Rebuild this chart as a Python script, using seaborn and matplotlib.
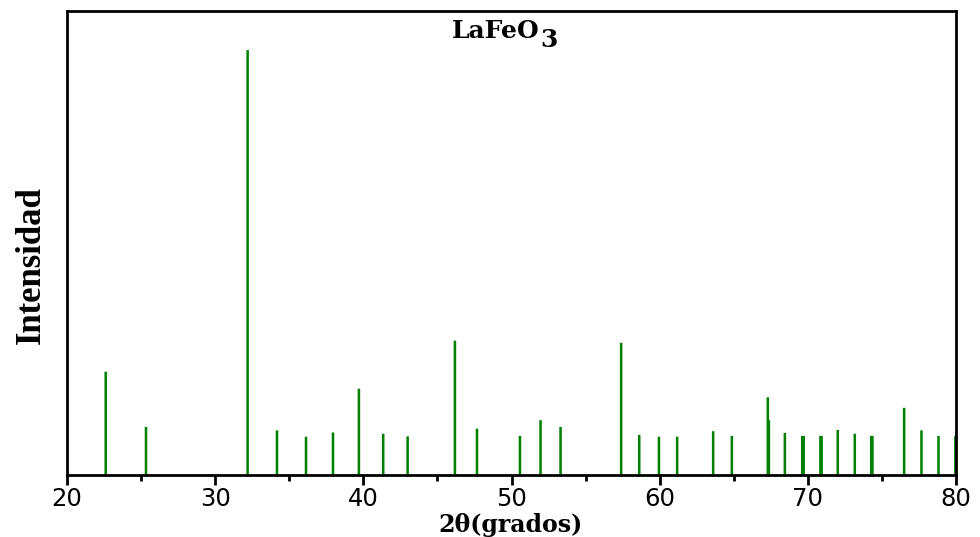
import matplotlib
matplotlib.use("Agg")
import matplotlib.pyplot as plt
from matplotlib.ticker import MultipleLocator
import seaborn as sns
import pandas as pd

# Reflection positions (2θ, degrees) and relative intensities for LaFeO3
two_theta = [22.61, 25.33, 32.19, 34.17, 36.13, 37.95, 39.70, 41.34, 42.99,
             46.18, 47.67, 50.57, 51.96, 53.31, 57.40, 58.62, 59.95, 61.18,
             63.61, 64.87, 67.30, 67.37, 68.45, 69.62, 69.72, 70.85, 70.93,
             72.02, 73.17, 74.28, 74.36, 76.50, 77.67, 78.82, 79.96]
intensity = [24.3, 11.3, 100.0, 10.5, 9.0, 10.0, 20.3, 9.7, 9.1,
             31.6, 10.9, 9.2, 12.9, 11.3, 31.1, 9.4, 9.0, 9.0,
             10.3, 9.2, 18.3, 12.9, 9.9, 9.2, 9.2, 9.2, 9.2,
             10.6, 9.7, 9.2, 9.2, 15.8, 10.5, 9.2, 9.2]
x_ticks = [20, 30, 40, 50, 60, 70, 80]

df = pd.DataFrame({"two_theta": two_theta, "intensity": intensity})

sns.set_theme(style="white")

fig = plt.figure(figsize=(9.8, 5.37), dpi=100)
ax = fig.add_axes([0.0684, 0.1155, 0.9071, 0.864])

sns.barplot(data=df, x="two_theta", y="intensity", native_scale=True,
            color="#008000", saturation=1, ax=ax, errorbar=None)

# thin stick markers of constant width
stick = 0.17
for p in ax.patches:
    cx = p.get_x() + p.get_width() / 2
    p.set_x(cx - stick / 2)
    p.set_width(stick)
    p.set_edgecolor("none")
    p.set_linewidth(0)
    p.set_facecolor("#008000")
    p.set_snap(False)

ax.set_xlim(20, 80)
ax.set_ylim(0, 109.2)
ax.set_xticks(x_ticks)
ax.xaxis.set_minor_locator(MultipleLocator(5))
ax.set_yticks([])

for s in ax.spines.values():
    s.set_visible(True)
    s.set_color("black")
    s.set_linewidth(2)
    s.set_zorder(5)

ax.tick_params(axis="x", which="major", direction="out", length=7, width=2,
               colors="black", labelsize=17.5, pad=2, bottom=True)
ax.tick_params(axis="x", which="minor", direction="out", length=4, width=2,
               colors="black", bottom=True)
for lab in ax.get_xticklabels():
    lab.set_fontfamily("DejaVu Sans")

ax.set_xlabel("2θ(grados)", fontsize=17, fontweight="bold",
              fontfamily="DejaVu Serif", color="black")
ax.xaxis.set_label_coords(0.499, -0.081)
ax.set_ylabel("Intensidad", fontsize=25, fontweight="bold",
              fontfamily="Liberation Serif", color="black")
ax.yaxis.set_label_coords(-0.021, 0.453)

ax.text(0.532, 0.941, "LaFeO", transform=ax.transAxes, ha="right",
        va="baseline", fontsize=18, fontweight="bold",
        fontfamily="DejaVu Serif", color="black")
ax.text(0.5325, 0.923, "3", transform=ax.transAxes, ha="left",
        va="baseline", fontsize=18, fontweight="bold",
        fontfamily="DejaVu Serif", color="black")

fig.savefig("out.png", dpi=100)
